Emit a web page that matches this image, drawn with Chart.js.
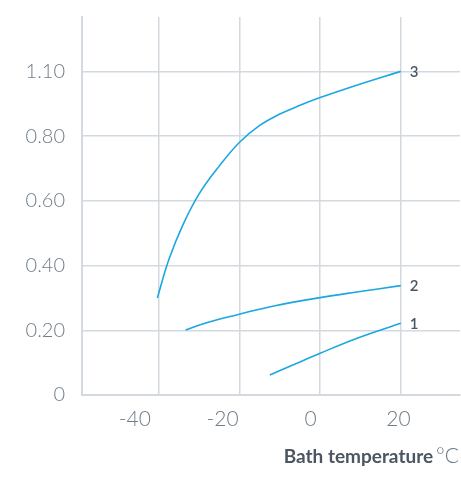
<!DOCTYPE html>
<html>
<head>
<meta charset="utf-8">
<script src="https://cdn.jsdelivr.net/npm/chart.js@4/dist/chart.umd.min.js"></script>
<style>
  html, body { margin: 0; padding: 0; background: #ffffff; }
  #wrap { width: 461px; height: 479px; position: relative; }
</style>
</head>
<body>
<div id="wrap"><canvas id="c"></canvas></div>
<script>
// ---- data ----
const series1Temp = [-12.5, -7.1, 0, 9.5, 20];
const series1Val  = [0.062, 0.091, 0.129, 0.177, 0.222];

const series2Temp = [-33.4, -27.8, -20.3, -11.2, 0, 9.5, 20];
const series2Val  = [0.201, 0.225, 0.249, 0.276, 0.301, 0.319, 0.338];

const series3Temp = [-40.4, -37.5, -34, -30, -25, -20, -15, -10, -5, 0, 10, 20];
const series3Val  = [0.30, 0.42, 0.527, 0.622, 0.708, 0.781, 0.833, 0.868, 0.895, 0.919, 0.961, 1.0];

const seriesNames = ['1', '2', '3'];

const xTickValues = [-40, -20, 0, 20];
const yTickValues = [0, 0.2, 0.4, 0.6, 0.8, 1.0];
const yTickLabels = ['0', '0.20', '0.40', '0.60', '0.80', '1.10'];

const axisTitleMain = 'Bath temperature';
const axisTitleUnit = '°C';

// ---- styles ----
const lineColor = '#1ba7e1';
const gridColor = '#d3d9df';
const tickColor = '#707d88';
const darkText = '#4b5661';

function pts(xs, ys) { return xs.map((x, i) => ({ x: x, y: ys[i] })); }

const endLabels = {
  id: 'endLabels',
  afterDatasetsDraw(chart) {
    const ctx = chart.ctx;
    const xs = chart.scales.x, ys = chart.scales.y;
    ctx.save();
    ctx.font = '600 15px Lato';
    ctx.fillStyle = darkText;
    ctx.textAlign = 'left';
    ctx.textBaseline = 'middle';
    chart.data.datasets.forEach((ds) => {
      const last = ds.data[ds.data.length - 1];
      ctx.fillText(ds.label, xs.getPixelForValue(last.x) + 9, ys.getPixelForValue(last.y) + 1);
    });
    ctx.restore();
  }
};

const axisTitle = {
  id: 'axisTitle',
  afterDraw(chart) {
    const ctx = chart.ctx;
    ctx.save();
    ctx.textBaseline = 'alphabetic';
    ctx.textAlign = 'right';
    const right = 459, base = 463;
    ctx.font = '300 21px Lato';
    ctx.fillStyle = '#6a7782';
    ctx.fillText(axisTitleUnit, right, base);
    const w = ctx.measureText(axisTitleUnit).width;
    ctx.font = '700 19px Lato';
    ctx.fillStyle = darkText;
    ctx.fillText(axisTitleMain, right - w - 3, base);
    ctx.restore();
  }
};

new Chart(document.getElementById('c'), {
  type: 'line',
  data: {
    datasets: [
      { label: seriesNames[0], data: pts(series1Temp, series1Val) },
      { label: seriesNames[1], data: pts(series2Temp, series2Val) },
      { label: seriesNames[2], data: pts(series3Temp, series3Val) }
    ].map(d => Object.assign(d, {
      borderColor: lineColor, borderWidth: 1.6, pointRadius: 0, tension: 0.4, fill: false
    }))
  },
  options: {
    responsive: true,
    maintainAspectRatio: false,
    animation: false,
    layout: { padding: { top: 17, right: 1, left: 0, bottom: 0 } },
    plugins: { legend: { display: false }, tooltip: { enabled: false } },
    scales: {
      x: {
        type: 'linear', position: 'bottom', weight: 0,
        min: -59.1, max: 34.7,
        afterBuildTicks: s => { s.ticks = xTickValues.map(v => ({ value: v })); },
        afterFit: s => { s.height = 0; s.paddingLeft = 0; s.paddingRight = 0; },
        grid: { color: gridColor, lineWidth: 1.5, drawTicks: false },
        border: { display: true, color: gridColor, width: 2 },
        ticks: { display: false }
      },
      x2: {
        type: 'linear', position: 'bottom', weight: 1,
        min: -52, max: 34,
        afterBuildTicks: s => { s.ticks = xTickValues.map(v => ({ value: v })); },
        afterFit: s => { s.height = 84; s.paddingLeft = 0; s.paddingRight = 0; },
        grid: { display: false, drawTicks: false },
        border: { display: false },
        ticks: { color: tickColor, font: { family: 'Lato', size: 21, weight: 300 }, padding: 12, maxRotation: 0, autoSkip: false }
      },
      y: {
        type: 'linear', min: 0, max: 1.168,
        afterBuildTicks: s => { s.ticks = yTickValues.map(v => ({ value: v })); },
        afterFit: s => { s.width = 82; s.paddingTop = 0; s.paddingBottom = 0; },
        grid: { color: gridColor, lineWidth: 1.5, drawTicks: false },
        border: { display: true, color: gridColor, width: 2 },
        ticks: {
          color: tickColor, font: { family: 'Lato', size: 20, weight: 300 }, padding: 17,
          callback: (v) => { const i = yTickValues.findIndex(t => Math.abs(t - v) < 1e-6); return i >= 0 ? yTickLabels[i] : ''; }
        }
      }
    }
  },
  plugins: [endLabels, axisTitle]
});
</script>
</body>
</html>
